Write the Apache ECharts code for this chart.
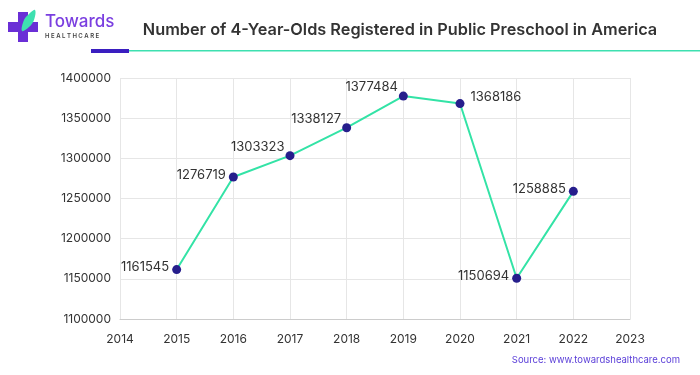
<!DOCTYPE html>
<html>
<head>
<meta charset="utf-8">
<script src="https://cdn.jsdelivr.net/npm/echarts@6/dist/echarts.min.js"></script>
<style>
  html, body { margin: 0; padding: 0; background: #fff; }
  #chart { width: 700px; height: 375px; }
</style>
</head>
<body>
<div id="chart"></div>
<script>
var years = [2015, 2016, 2017, 2018, 2019, 2020, 2021, 2022];
var enrolled = [1161545, 1276719, 1303323, 1338127, 1377484, 1368186, 1150694, 1258885];
var labelSides = ['left', 'left', 'topLeft', 'topLeft', 'topLeft', 'right', 'left', 'left'];

var sideStyle = {
    left: { position: 'left', distance: 3, offset: [0, -2] },
    right: { position: 'right', distance: 6, offset: [0, -6] },
    topLeft: { position: 'left', distance: 1, offset: [0, -9] }
};

var chart = echarts.init(document.getElementById('chart'));

var points = years.map(function (y, i) {
    var s = sideStyle[labelSides[i]];
    return {
        value: [y, enrolled[i]],
        label: { position: s.position, distance: s.distance, offset: s.offset }
    };
});

var option = {
    animation: false,
    title: {
        text: 'Number of 4-Year-Olds Registered in Public Preschool in America',
        left: 395, top: 17, textAlign: 'center',
        textStyle: { fontFamily: 'Inter', fontSize: 16.3, fontWeight: 600, color: '#333' }
    },
    grid: { left: 120, right: 70, top: 78, bottom: 56 },
    xAxis: {
        type: 'value', min: 2014, max: 2023, interval: 1,
        axisLine: { show: true, lineStyle: { color: '#ccc' } },
        axisTick: { show: false },
        splitLine: { show: true, lineStyle: { color: '#e6e6e6' } },
        axisLabel: { color: '#333', fontFamily: 'Inter', fontSize: 12, margin: 14,
            formatter: function (v) { return String(v); } }
    },
    yAxis: {
        type: 'value', min: 1100000, max: 1400000, interval: 50000,
        axisLine: { show: false },
        axisTick: { show: false },
        splitLine: { show: true, lineStyle: { color: '#e6e6e6' } },
        axisLabel: { color: '#333', fontFamily: 'Inter', fontSize: 12, margin: 9,
            formatter: function (v) { return String(v); } }
    },
    series: [{
        type: 'line',
        data: points,
        symbol: 'circle',
        symbolSize: 9,
        itemStyle: { color: '#261e8c' },
        lineStyle: { color: '#33e3a6', width: 2 },
        label: {
            show: true, color: '#333', fontFamily: 'Inter', fontSize: 13,
            formatter: function (p) { return p.value[1]; }
        }
    }],
    graphic: [
        // logo cross
        { type: 'rect', shape: { x: 18, y: 12, width: 10, height: 30 }, style: { fill: '#6a2fd6' } },
        { type: 'rect', shape: { x: 8, y: 22, width: 30, height: 10 }, style: { fill: '#6a2fd6' } },
        { type: 'polygon', shape: { points: [[22, 31], [24, 20], [29, 14], [35, 10], [34, 20], [29, 27]], smooth: 0.4 }, style: { fill: '#3ee0b0' } },
        { type: 'text', left: 45, top: 13, style: { text: 'Towards', font: '500 17px Inter', fill: '#7a3ee0' } },
        { type: 'text', left: 45, top: 33, style: { text: 'H E A L T H C A R E', font: '600 6px Inter', fill: '#444' } },
        // header rule
        { type: 'rect', shape: { x: 129, y: 50, width: 571, height: 1.5 }, style: { fill: '#3ee0b0' } },
        { type: 'rect', shape: { x: 91, y: 49, width: 38, height: 4 }, style: { fill: '#3a1ec0' } },
        { type: 'text', right: 20, top: 355, style: { text: 'Source: www.towardshealthcare.com', font: '9.5px Inter', fill: '#5a3ed8' } }
    ]
};

chart.setOption(option);
</script>
</body>
</html>
